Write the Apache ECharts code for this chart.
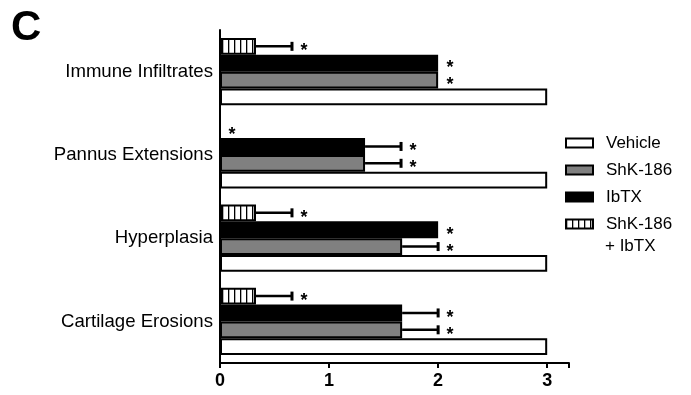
<!DOCTYPE html>
<html><head><meta charset="utf-8">
<script src="https://cdn.jsdelivr.net/npm/echarts@6/dist/echarts.min.js"></script>
<style>html,body{margin:0;padding:0;background:#fff}#c{width:691px;height:395px}</style>
</head><body><div id="c"></div>
<script>
// Categories listed bottom to top
const categories = ['Cartilage Erosions', 'Hyperplasia', 'Pannus Extensions', 'Immune Infiltrates'];
const seriesNames = ['Vehicle', 'ShK-186', 'IbTX', 'ShK-186 + IbTX'];
const vehicle = [3, 3, 3, 3];
const shk = [1.67, 1.67, 1.33, 2];
const ibtx = [1.67, 2, 1.33, 2];
const combo = [0.33, 0.33, 0, 0.33];
const shkErr = [0.33, 0.33, 0.33, 0];
const ibtxErr = [0.33, 0, 0.33, 0];
const comboErr = [0.33, 0.33, 0, 0.33];
const xTicks = [0, 1, 2, 3];

const FONT = 'Liberation Sans, Arial, Helvetica, sans-serif';
const GAP = 0.19;

// vertical-stripe pattern
const pc = document.createElement('canvas');
pc.width = 6; pc.height = 6;
const pctx = pc.getContext('2d');
pctx.fillStyle = '#fff'; pctx.fillRect(0, 0, 6, 6);
pctx.fillStyle = '#000'; pctx.fillRect(0, 0, 1.3, 6);
const hatch = { image: pc, repeat: 'repeat' };

const fills = ['#ffffff', '#808080', '#000000', hatch];
const values = [vehicle, shk, ibtx, combo];
const errs = [null, shkErr, ibtxErr, comboErr];

const errData = [];
for (let s = 1; s < 4; s++) {
  for (let c = 0; c < categories.length; c++) {
    errData.push([values[s][c], c, errs[s][c], s]);
  }
}

const chart = echarts.init(document.getElementById('c'));
// ECharts stacks horizontal bar series top-down, so add them in reverse order
const barSeries = [];
for (let i = values.length - 1; i >= 0; i--) {
  barSeries.push({
    name: seriesNames[i],
    type: 'bar',
    data: values[i],
    barGap: '0%',
    barCategoryGap: (GAP * 100) + '%',
    itemStyle: { color: fills[i], borderColor: '#000', borderWidth: 2 },
    emphasis: { disabled: true }
  });
}

chart.setOption({
  animation: false,
  grid: { left: 220, right: 122, top: 30, bottom: 32 },
  graphic: [{
    type: 'text', left: 11, top: 7,
    style: { text: 'C', font: 'bold 42px ' + FONT, fill: '#000' }
  }, {
    type: 'text', left: 605, top: 238,
    style: { text: '+ IbTX', font: '17px ' + FONT, fill: '#000' }
  }],
  legend: {
    orient: 'vertical', left: 560, top: 127,
    icon: 'rect',
    itemWidth: 27, itemHeight: 9, itemGap: 5,
    textStyle: { fontFamily: FONT, fontSize: 17, color: '#000', lineHeight: 22, padding: [0, 0, 0, 8] },
    formatter: n => (n === seriesNames[3] ? 'ShK-186' : n),
    data: seriesNames.slice(),
    selectedMode: false
  },
  xAxis: {
    type: 'value', min: 0, max: 3.2, interval: 1,
    axisLine: { show: true, lineStyle: { color: '#000', width: 2 } },
    axisTick: { show: true, length: 5, lineStyle: { color: '#000', width: 2 } },
    splitLine: { show: false },
    axisLabel: {
      color: '#000', fontFamily: FONT, fontSize: 18, fontWeight: 'bold', margin: 9,
      formatter: v => (xTicks.indexOf(v) >= 0 ? String(v) : '')
    }
  },
  yAxis: {
    type: 'category', data: categories,
    axisLine: { show: true, lineStyle: { color: '#000', width: 2 } },
    axisTick: { show: false },
    axisLabel: { color: '#000', fontFamily: FONT, fontSize: 18.6, margin: 7 }
  },
  series: barSeries.concat([{
    type: 'custom',
    name: 'err',
    data: errData,
    encode: { x: 0, y: 1 },
    clip: false,
    z: 5,
    renderItem: function (params, api) {
      const v = api.value(0), c = api.value(1), e = api.value(2), s = api.value(3);
      const p = api.coord([v, c]);
      const band = api.size([0, 1])[1];
      const bw = band * (1 - GAP) / 4;
      const y = p[1] + band * (1 - GAP) / 2 - bw * (s + 0.5);
      const pe = api.coord([v + e, c]);
      const children = [];
      if (e > 0) {
        children.push({ type: 'line', shape: { x1: p[0], y1: y, x2: pe[0], y2: y }, style: { stroke: '#000', lineWidth: 2.5 } });
        children.push({ type: 'line', shape: { x1: pe[0], y1: y - 4.5, x2: pe[0], y2: y + 4.5 }, style: { stroke: '#000', lineWidth: 3 } });
      }
      children.push({ type: 'text', x: pe[0] + 12, y: y + 5, style: { text: '*', font: 'bold 18px ' + FONT, fill: '#000', textAlign: 'center', textVerticalAlign: 'middle' } });
      return { type: 'group', children: children };
    }
  }])
});
</script></body></html>
